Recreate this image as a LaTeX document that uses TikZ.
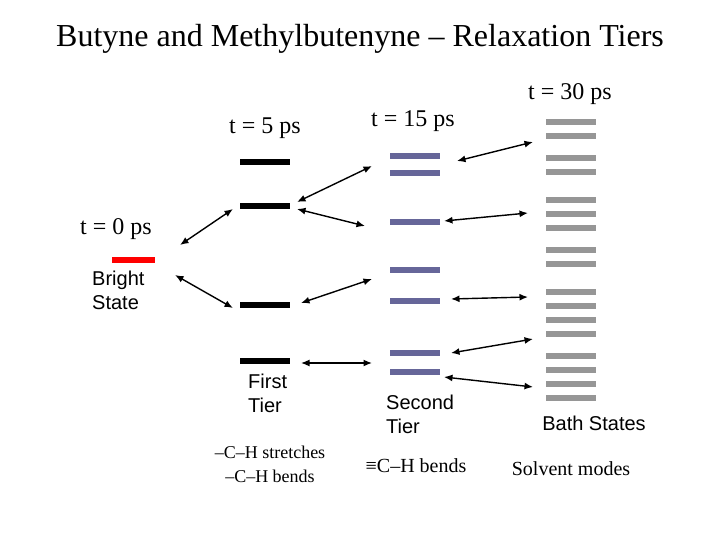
\documentclass[tikz,border=0pt]{standalone}
\usepackage{fontspec}
\setmainfont{Liberation Serif}
\setsansfont{Liberation Sans}
\usepackage{tikz}
\usetikzlibrary{arrows.meta}

\definecolor{tierblue}{RGB}{102,102,153}
\definecolor{bathgray}{RGB}{150,150,150}
\definecolor{brightred}{RGB}{255,0,0}

\tikzset{
  level/.style={rectangle,inner sep=0pt,minimum width=50pt,minimum height=6pt},
  firstlevel/.style={level,fill=black},
  secondlevel/.style={level,fill=tierblue},
  bathlevel/.style={level,fill=bathgray},
  brightlevel/.style={level,fill=brightred,minimum width=43pt},
  coupling/.style={{Latex[length=8.5pt,width=7pt]}-{Latex[length=8.5pt,width=7pt]},line width=1.4pt},
  timelabel/.style={anchor=base,font=\fontsize{24}{28}\selectfont},
  tierlabel/.style={anchor=base west,align=left,inner xsep=0pt,font=\sffamily\fontsize{20}{24}\selectfont},
  modelabel/.style={anchor=base,font=\fontsize{20}{24}\selectfont}
}

\begin{document}
\begin{tikzpicture}[x=1pt,y=-1pt]
\useasboundingbox (0,0) rectangle (720,540);
% title
\node[anchor=base,font=\fontsize{32}{36}\selectfont] (title) at (360,47) {Butyne and Methylbutenyne -- Relaxation Tiers};
% times
\node[timelabel] (t0) at (116,234) {t = 0 ps};
\node[timelabel] (t5) at (265,134) {t = 5 ps};
\node[timelabel] (t15) at (413,127) {t = 15 ps};
\node[timelabel] (t30) at (570,100) {t = 30 ps};
% bright state
\node[brightlevel] (bs) at (133.5,260) {};
% first tier
\node[firstlevel] (f1) at (265,162) {};
\node[firstlevel] (f2) at (265,206) {};
\node[firstlevel] (f3) at (265,305) {};
\node[firstlevel] (f4) at (265,361) {};
% second tier
\node[secondlevel] (s1) at (415,156) {};
\node[secondlevel] (s2) at (415,173) {};
\node[secondlevel] (s3) at (415,222) {};
\node[secondlevel] (s4) at (415,270) {};
\node[secondlevel] (s5) at (415,301) {};
\node[secondlevel] (s6) at (415,353) {};
\node[secondlevel] (s7) at (415,372) {};
% bath states
\node[bathlevel] (h1) at (571,122) {};
\node[bathlevel] (h2) at (571,136) {};
\node[bathlevel] (h3) at (571,158) {};
\node[bathlevel] (h4) at (571,172) {};
\node[bathlevel] (h5) at (571,200) {};
\node[bathlevel] (h6) at (571,214) {};
\node[bathlevel] (h7) at (571,228) {};
\node[bathlevel] (h8) at (571,250) {};
\node[bathlevel] (h9) at (571,264) {};
\node[bathlevel] (h10) at (571,292) {};
\node[bathlevel] (h11) at (571,306) {};
\node[bathlevel] (h12) at (571,320) {};
\node[bathlevel] (h13) at (571,334) {};
\node[bathlevel] (h14) at (571,356) {};
\node[bathlevel] (h15) at (571,370) {};
\node[bathlevel] (h16) at (571,384) {};
\node[bathlevel] (h17) at (571,398) {};
% arrow ends
\coordinate (a1) at (180,245);
\coordinate (a2) at (233,209);
\coordinate (b1) at (175,275);
\coordinate (b2) at (233,308);
\coordinate (c1) at (297,202);
\coordinate (c2) at (372,166);
\coordinate (d1) at (297,209);
\coordinate (d2) at (365,226);
\coordinate (e1) at (301,303);
\coordinate (e2) at (372,279);
\coordinate (g1) at (301,363);
\coordinate (g2) at (372,363);
\coordinate (k1) at (457,161);
\coordinate (k2) at (533,142);
\coordinate (m1) at (444,221);
\coordinate (m2) at (528,213);
\coordinate (n1) at (451,299);
\coordinate (n2) at (528,297);
\coordinate (p1) at (451,353);
\coordinate (p2) at (533,339);
\coordinate (q1) at (444,377);
\coordinate (q2) at (533,387);
\draw[coupling] (a1) -- (a2);
\draw[coupling] (b1) -- (b2);
\draw[coupling] (c1) -- (c2);
\draw[coupling] (d1) -- (d2);
\draw[coupling] (e1) -- (e2);
\draw[coupling] (g1) -- (g2);
\draw[coupling] (k1) -- (k2);
\draw[coupling] (m1) -- (m2);
\draw[coupling] (n1) -- (n2);
\draw[coupling] (p1) -- (p2);
\draw[coupling] (q1) -- (q2);
% labels (base = last line)
\node[tierlabel] (bright) at (92,309) {Bright\\State};
\node[tierlabel] (first) at (248,412) {First\\Tier};
\node[tierlabel] (second) at (386,433) {Second\\Tier};
\node[anchor=base,font=\sffamily\fontsize{20}{24}\selectfont] (bath) at (594,430) {Bath States};
\node[anchor=base,align=center,font=\fontsize{18}{24}\selectfont] (modes1) at (270,482) {--C--H stretches\\--C--H bends};
\node[modelabel] (modes2) at (416,472) {≡C--H bends};
\node[modelabel] (modes3) at (571,475) {Solvent modes};
\end{tikzpicture}
\end{document}
